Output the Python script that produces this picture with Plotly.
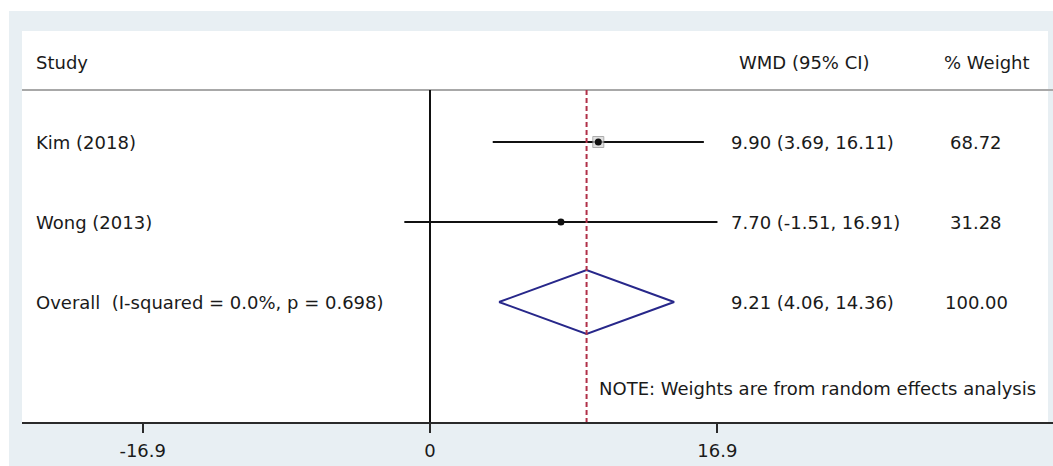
import plotly.graph_objects as go

# Study-level data
studies = ["Kim (2018)", "Wong (2013)"]
wmd = [9.90, 7.70]
ci_low = [3.69, -1.51]
ci_high = [16.11, 16.91]
weights = [68.72, 31.28]

# Pooled estimate
overall_label = "Overall  (I-squared = 0.0%, p = 0.698)"
overall_wmd = 9.21
overall_low = 4.06
overall_high = 14.36
overall_weight = 100.00

tick_vals = [-16.9, 0, 16.9]
tick_text = ["-16.9", "0", "16.9"]

W, H = 1053, 466
FONT = dict(family="DejaVu Sans, Arial, sans-serif", size=18, color="#1a1a1a")

# row positions (0 = header)
rows = [1, 2]
overall_row = 3
note_row = 4.08
header_line_row = 0.35
axis_row = 4.5

fig = go.Figure()

# confidence interval lines
for i, s in enumerate(studies):
    fig.add_trace(go.Scatter(
        x=[ci_low[i], ci_high[i]], y=[rows[i], rows[i]], mode="lines",
        line=dict(color="#111111", width=2), showlegend=False, hoverinfo="skip"))

# weight boxes
max_w = max(weights)
fig.add_trace(go.Scatter(
    x=wmd, y=rows, mode="markers",
    marker=dict(symbol="square", size=[11 * w / max_w for w in weights],
                color="#d4d4d4", line=dict(color="#8a8a8a", width=1)),
    showlegend=False, hoverinfo="skip"))

# point estimates
fig.add_trace(go.Scatter(
    x=wmd, y=rows, mode="markers",
    marker=dict(symbol="circle", size=7, color="#111111"),
    showlegend=False, hoverinfo="skip"))

# pooled diamond
half_h = 0.4
fig.add_trace(go.Scatter(
    x=[overall_low, overall_wmd, overall_high, overall_wmd, overall_low],
    y=[overall_row, overall_row - half_h, overall_row, overall_row + half_h, overall_row],
    mode="lines", line=dict(color="#27278a", width=2),
    showlegend=False, hoverinfo="skip"))

shapes = [
    # outer tinted frame
    dict(type="rect", xref="paper", yref="paper", x0=9 / W, x1=1, y0=0, y1=1 - 11 / H,
         fillcolor="#e8eff3", line=dict(width=0), layer="below"),
    # white panel
    dict(type="rect", xref="paper", yref="paper", x0=22 / W, x1=1048 / W, y0=44 / H, y1=1 - 31 / H,
         fillcolor="white", line=dict(width=0), layer="below"),
    # header separator
    dict(type="line", xref="paper", yref="y", x0=22 / W, x1=1, y0=header_line_row, y1=header_line_row,
         line=dict(color="#a8a8a8", width=2)),
    # line of no effect
    dict(type="line", xref="x", yref="y", x0=0, x1=0, y0=header_line_row, y1=axis_row,
         line=dict(color="#111111", width=2)),
    # pooled estimate reference line
    dict(type="line", xref="x", yref="y", x0=overall_wmd, x1=overall_wmd, y0=header_line_row, y1=axis_row,
         line=dict(color="#b03048", width=2, dash="5px,3px")),
]

annotations = []

def txt(x, y, text, anchor="left", xref="paper"):
    annotations.append(dict(x=x, y=y, xref=xref, yref="y", text=text, showarrow=False,
                            xanchor=anchor, yanchor="middle", font=FONT))

study_x = 34 / W
ci_x = 729 / W
wt_x = 976 / W

txt(study_x, 0, "Study")
txt(737 / W, 0, "WMD (95% CI)")
txt(987 / W, 0, "% Weight", anchor="center")

for i, s in enumerate(studies):
    txt(study_x, rows[i], s)
    txt(ci_x, rows[i], f"{wmd[i]:.2f} ({ci_low[i]:.2f}, {ci_high[i]:.2f})")
    txt(wt_x, rows[i], f"{weights[i]:.2f}", anchor="center")

txt(study_x, overall_row, overall_label)
txt(ci_x, overall_row, f"{overall_wmd:.2f} ({overall_low:.2f}, {overall_high:.2f})")
txt(wt_x, overall_row, f"{overall_weight:.2f}", anchor="center")
txt(597 / W, note_row, "NOTE: Weights are from random effects analysis")

px_per_unit = 17.0
zero_px = 430.0

fig.update_layout(
    width=W, height=H,
    margin=dict(l=0, r=0, t=0, b=0),
    paper_bgcolor="white",
    plot_bgcolor="rgba(0,0,0,0)",
    shapes=shapes,
    annotations=annotations,
    font=FONT,
    xaxis=dict(
        domain=[22 / W, 1],
        range=[(22 - zero_px) / px_per_unit, (W - zero_px) / px_per_unit],
        showgrid=False, zeroline=False,
        showline=True, linecolor="#2a2a2a", linewidth=2,
        ticks="outside", ticklen=9, tickwidth=2, tickcolor="#2a2a2a",
        ticklabelstandoff=2,
        tickvals=tick_vals, ticktext=tick_text, tickfont=FONT,
    ),
    yaxis=dict(
        domain=[(H - 422) / H, 1],
        range=[axis_row, -62 / 80],
        showgrid=False, zeroline=False, showline=False, showticklabels=False, ticks="",
    ),
)

fig.write_html("out.html")
